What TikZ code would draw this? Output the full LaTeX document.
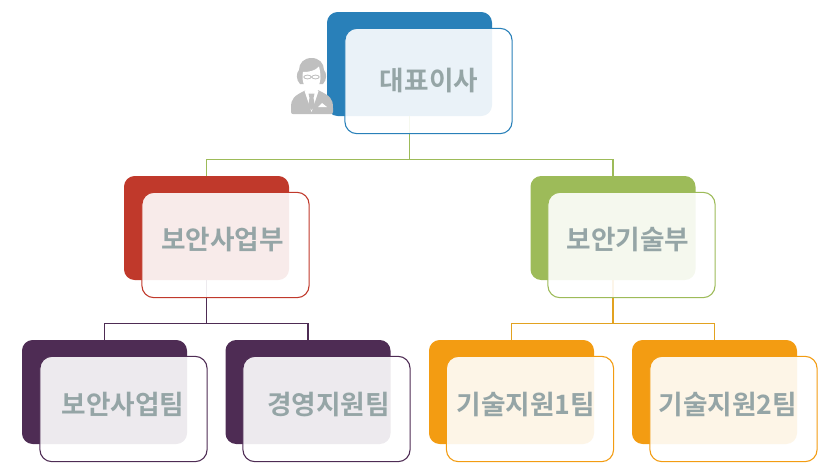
\documentclass[tikz,border=0pt]{standalone}
\usepackage{fontspec}
\setmainfont{Noto Sans CJK KR Bold}
\definecolor{ceoblue}{HTML}{2980B9}
\definecolor{deptred}{HTML}{C0392B}
\definecolor{deptgreen}{HTML}{9DBB59}
\definecolor{teampurple}{HTML}{4E2C54}
\definecolor{teamorange}{HTML}{F39C12}
\definecolor{labelgray}{HTML}{95A5A6}
\definecolor{icongray}{HTML}{BFBFBF}
\tikzset{
  backbox/.style={minimum width=123.75pt, minimum height=78pt, inner sep=0pt, rounded corners=8pt},
  frontbox/.style={draw, fill=white, fill opacity=.9, line width=.8pt, minimum width=125.4pt, minimum height=79pt, inner sep=0pt, rounded corners=9pt},
  boxlabel/.style={text=labelgray, font=\fontsize{20pt}{20pt}\selectfont, inner sep=0pt},
  link/.style={line width=.9pt}
}
\begin{document}
\begin{tikzpicture}[x=.75pt, y=-.75pt]
  \useasboundingbox (0,0) rectangle (832,472);
  % back boxes
  \node[backbox, fill=ceoblue] (ceo) at (409.5,64) {};
  \node[backbox, fill=deptred] (sales) at (206.5,228) {};
  \node[backbox, fill=deptgreen] (tech) at (613,228) {};
  \node[backbox, fill=teampurple] (salesteam) at (104.5,392) {};
  \node[backbox, fill=teampurple] (support) at (308,392) {};
  \node[backbox, fill=teamorange] (techone) at (511.5,392) {};
  \node[backbox, fill=teamorange] (techtwo) at (714.5,392) {};
  % links
  \draw[link, deptgreen] (ceo.south) -- ++(0,43.5) -| (sales.north);
  \draw[link, deptgreen] (ceo.south) -- ++(0,43.5) -| (tech.north);
  \draw[link, teampurple] (sales.south) -- ++(0,43.5) -| (salesteam.north);
  \draw[link, teampurple] (sales.south) -- ++(0,43.5) -| (support.north);
  \draw[link, teamorange!80!deptgreen] (tech.south) -- ++(0,43.5) -| (techone.north);
  \draw[link, teamorange!80!deptgreen] (tech.south) -- ++(0,43.5) -| (techtwo.north);
  % front boxes
  \node[frontbox, draw=ceoblue] (ceofront) at (428.5,81) {};
  \node[frontbox, draw=deptred] (salesfront) at (225.5,245) {};
  \node[frontbox, draw=deptgreen] (techfront) at (631.5,245) {};
  \node[frontbox, draw=teampurple] (salesteamfront) at (123.5,409) {};
  \node[frontbox, draw=teampurple] (supportfront) at (326.5,409) {};
  \node[frontbox, draw=teamorange] (techonefront) at (530,409) {};
  \node[frontbox, draw=teamorange] (techtwofront) at (733.5,409) {};
  % labels
  \node[boxlabel] (ceotext) at (429,81) {대표이사};
  \node[boxlabel] (salestext) at (222.5,240) {보안사업부};
  \node[boxlabel] (techtext) at (628,240) {보안기술부};
  \node[boxlabel] (salesteamtext) at (123,405) {보안사업팀};
  \node[boxlabel] (supporttext) at (328.5,405) {경영지원팀};
  \node[boxlabel] (techonetext) at (526,405) {기술지원1팀};
  \node[boxlabel] (techtwotext) at (728,405) {기술지원2팀};
  % person icon
  \fill[icongray] (291,108) .. controls (291,98) and (294,96) .. (306,90) -- (318,90) .. controls (330,96) and (333,98) .. (333,108) -- (333,112) .. controls (333,113.5) and (332,114) .. (331,114) -- (293,114) .. controls (292,114) and (291,113.5) .. (291,112) -- cycle;
  \fill[icongray] (311.5,58) .. controls (319,58) and (324,63) .. (324,70) .. controls (327,73) and (327,80) .. (323,84) -- (300,84) .. controls (296,80) and (296,73) .. (299,70) .. controls (299,63) and (304,58) .. (311.5,58) -- cycle;
  \fill[white] (303,72) .. controls (309,72) and (315,71) .. (319,66.5) .. controls (320,70) and (320.5,74) .. (320.5,78) .. controls (320,86) and (315,93) .. (311.5,93) .. controls (308,93) and (303,86) .. (302.5,78) .. controls (302.5,76) and (302.5,74) .. (303,72) -- cycle;
  \fill[white] (304.5,91) -- (311.5,112) -- (318.5,91) -- (316,89) -- (311.5,93) -- (307,89) -- cycle;
  \fill[icongray] (308.5,93.5) -- (314.5,93.5) -- (313.5,98) -- (315,106) -- (311.5,110) -- (308,106) -- (309.5,98) -- cycle;
  \fill[white] (318,107) -- (322,103) -- (327,107) -- cycle;
  \draw[icongray, line width=.6pt] (307.5,77) ellipse (3.7 and 1.9) (315.5,77) ellipse (3.7 and 1.9);
\end{tikzpicture}
\end{document}
